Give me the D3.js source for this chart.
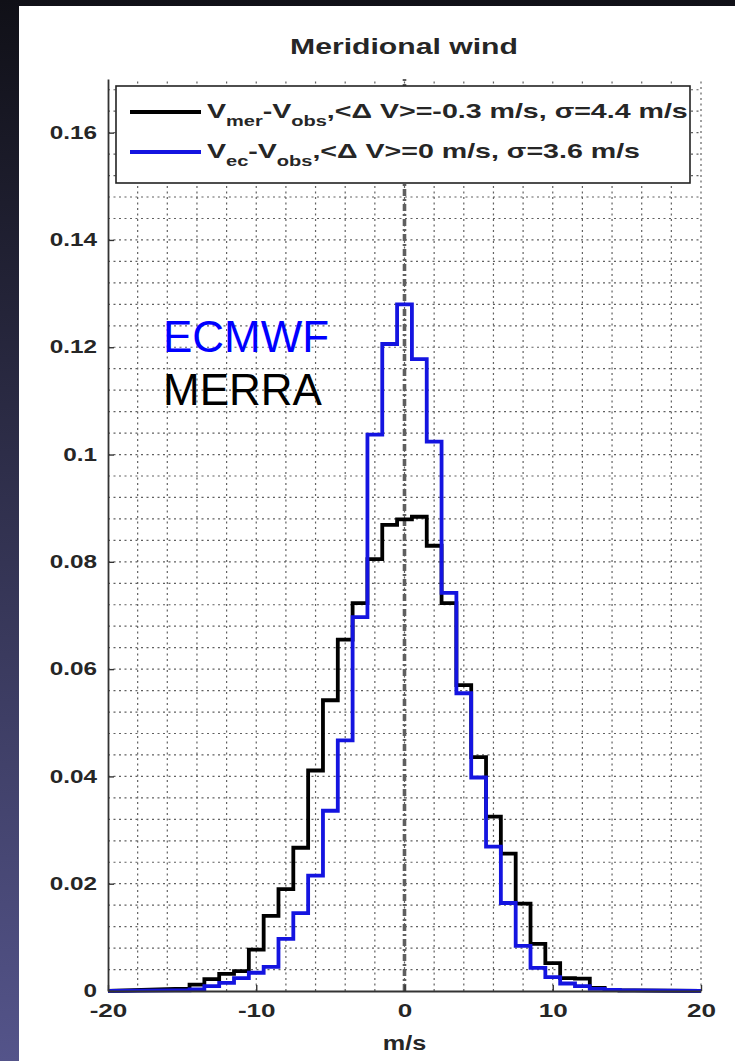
<!DOCTYPE html>
<html><head><meta charset="utf-8">
<script src="https://cdn.jsdelivr.net/npm/d3@7"></script>
<style>html,body{margin:0;padding:0;background:#111;} svg{display:block}</style>
</head><body>
<svg id="chart" width="735" height="1061"></svg>
<script>
// ---------------- data ----------------
const binCenters = [-15,-14,-13,-12,-11,-10,-9,-8,-7,-6,-5,-4,-3,-2,-1,0,1,2,3,4,5,6,7,8,9,10,11,12,13,14,15];
const merra = [0.0004,0.0012,0.0022,0.0032,0.0037,0.0077,0.0140,0.0190,0.0267,0.0411,0.0542,0.0655,0.0723,0.0805,0.0869,
               0.0879,0.0884,0.0830,0.0723,0.0570,0.0436,0.0325,0.0256,0.0163,0.0088,0.0052,0.0024,0.0023,0.0006,0.0002,0.0001];
const ecmwf = [0.0001,0.0003,0.0009,0.0015,0.0024,0.0034,0.0045,0.0097,0.0145,0.0215,0.0336,0.0467,0.0697,0.1037,0.1206,
               0.1280,0.1178,0.1024,0.0742,0.0555,0.0398,0.0269,0.0164,0.0084,0.0043,0.0026,0.0014,0.0009,0.0004,0.0002,0.0001];
const xTicks = [-20,-10,0,10,20];
const xTickLabels = ["-20","-10","0","10","20"];
const yTicks = [0,0.02,0.04,0.06,0.08,0.1,0.12,0.14,0.16];
const yTickLabels = ["0","0.02","0.04","0.06","0.08","0.1","0.12","0.14","0.16"];
const titleText = "Meridional wind";
const xLabelText = "m/s";
const legendMerra = {main:"V", sub1:"mer", mid:"-V", sub2:"obs", rest:",<\u0394 V>=-0.3 m/s, \u03c3=4.4 m/s"};
const legendEcmwf = {main:"V", sub1:"ec", mid:"-V", sub2:"obs", rest:",<\u0394 V>=0 m/s, \u03c3=3.6 m/s"};
const annotations = ["ECMWF","MERRA"];

// ---------------- layout ----------------
const W = 735, H = 1061;
const plot = {left:108, right:701, top:79, bottom:991};
const svg = d3.select("#chart");
const FONT = "'Liberation Sans', Arial, Helvetica, sans-serif";

const defs = svg.append("defs");
const grad = defs.append("linearGradient").attr("id","bg").attr("x1",0).attr("y1",0).attr("x2",0).attr("y2",1);
grad.append("stop").attr("offset","0%").attr("stop-color","#101017");
grad.append("stop").attr("offset","100%").attr("stop-color","#54548a");
svg.append("rect").attr("width",W).attr("height",H).attr("fill","url(#bg)");
svg.append("rect").attr("x",19).attr("y",6).attr("width",W-19).attr("height",H-6).attr("fill","#ffffff");

const x = d3.scaleLinear().domain([-20,20]).range([plot.left, plot.right]);
const y = d3.scaleLinear().domain([0,0.17]).range([plot.bottom, plot.top]);

function stretch(sel, f){
  sel.each(function(){
    const ax = +(this.getAttribute("x") || 0);
    this.setAttribute("transform", `translate(${ax*(1-f)},0) scale(${f},1)`);
  });
}
function fitWidth(sel, target){
  const w = sel.node().getBBox().width;
  const f = target / w;
  stretch(sel, f);
  return f;
}

// grid
const grid = svg.append("g").attr("stroke","#3a3a3a").attr("stroke-width",1.2)
  .attr("stroke-dasharray","2,3.5").attr("opacity",0.8);
d3.range(-18, 20.01, 2).forEach(v => {
  grid.append("line").attr("x1",x(v)).attr("x2",x(v)).attr("y1",plot.bottom).attr("y2",plot.top);
});
d3.range(0.004, 0.1681, 0.004).forEach(v => {
  grid.append("line").attr("x1",plot.left).attr("x2",plot.right).attr("y1",y(v)).attr("y2",y(v));
});

// zero line (dash-dot)
svg.append("line").attr("x1",x(0)).attr("x2",x(0)).attr("y1",y(0)).attr("y2",y(0.17))
  .attr("stroke","#5f5f5f").attr("stroke-width",3.6).attr("stroke-dasharray","7,3,2,3");

// histograms
function stepPoints(vals){
  const pts = [[-20,0]];
  binCenters.forEach((c,i) => { pts.push([c-0.5, vals[i]]); pts.push([c+0.5, vals[i]]); });
  pts.push([20,0]);
  return pts;
}
const line = d3.line().x(d => x(d[0])).y(d => y(d[1]));
svg.append("path").attr("d", line(stepPoints(merra))).attr("fill","none")
  .attr("stroke","#000").attr("stroke-width",3.8).attr("stroke-linejoin","miter");
svg.append("path").attr("d", line(stepPoints(ecmwf))).attr("fill","none")
  .attr("stroke","#1414e0").attr("stroke-width",3.8).attr("stroke-linejoin","miter");

// axes
const yAxis = d3.axisLeft(y).tickValues(yTicks).tickFormat((d,i) => yTickLabels[i])
  .tickSizeInner(-6).tickSizeOuter(0).tickPadding(11);
const gy = svg.append("g").attr("transform",`translate(${plot.left},0)`).call(yAxis);
const xAxis = d3.axisBottom(x).tickValues(xTicks).tickFormat((d,i) => xTickLabels[i])
  .tickSizeInner(-6).tickSizeOuter(0).tickPadding(13);
const gx = svg.append("g").attr("transform",`translate(0,${plot.bottom})`).call(xAxis);
[gx, gy].forEach(g => {
  g.select(".domain").attr("stroke","#333").attr("stroke-width",1.8);
  g.selectAll(".tick line").attr("stroke","#333").attr("stroke-width",1.4);
  g.selectAll(".tick text").attr("fill","#262626").attr("font-family",FONT)
    .attr("font-weight","bold").attr("font-size",18);
});
stretch(gy.selectAll(".tick text"), 1.35);
stretch(gx.selectAll(".tick text"), 1.45);

// x label
const xl = svg.append("text").attr("x", x(0)).attr("y", 1050).attr("text-anchor","middle")
  .attr("font-family",FONT).attr("font-weight","bold").attr("font-size",21).attr("fill","#262626").text(xLabelText);
stretch(xl, 1.2);

// title
const tt = svg.append("text").attr("x", 404).attr("y", 54).attr("text-anchor","middle")
  .attr("font-family",FONT).attr("font-weight","bold").attr("font-size",22).attr("fill","#262626").text(titleText);
fitWidth(tt, 228);

// legend
const lg = svg.append("g");
lg.append("rect").attr("x",116).attr("y",86).attr("width",574).attr("height",97)
  .attr("fill","#fff").attr("stroke","#222").attr("stroke-width",1.6);
const entries = [{t:legendMerra, color:"#000", yy:112},{t:legendEcmwf, color:"#1414e0", yy:152}];
let legF = null;
entries.forEach((e, k) => {
  lg.append("line").attr("x1",130).attr("x2",201).attr("y1",e.yy).attr("y2",e.yy)
    .attr("stroke",e.color).attr("stroke-width",3.8);
  const txt = lg.append("text").attr("x",207).attr("y",e.yy+6).attr("font-family",FONT)
    .attr("font-weight","bold").attr("font-size",20).attr("fill","#262626");
  txt.append("tspan").text(e.t.main);
  txt.append("tspan").attr("font-size",14).attr("dy",8).text(e.t.sub1);
  txt.append("tspan").attr("dy",-8).text(e.t.mid);
  txt.append("tspan").attr("font-size",14).attr("dy",8).text(e.t.sub2);
  txt.append("tspan").attr("dy",-8).text(e.t.rest);
  if (k === 0) legF = fitWidth(txt, 481);
  else stretch(txt, legF);
});

// annotations
svg.append("text").attr("x",163).attr("y",352).attr("font-family",FONT).attr("font-size",44)
  .attr("fill","#0000ff").text(annotations[0]);
svg.append("text").attr("x",163).attr("y",405).attr("font-family",FONT).attr("font-size",44)
  .attr("fill","#000").text(annotations[1]);
</script>
</body></html>
